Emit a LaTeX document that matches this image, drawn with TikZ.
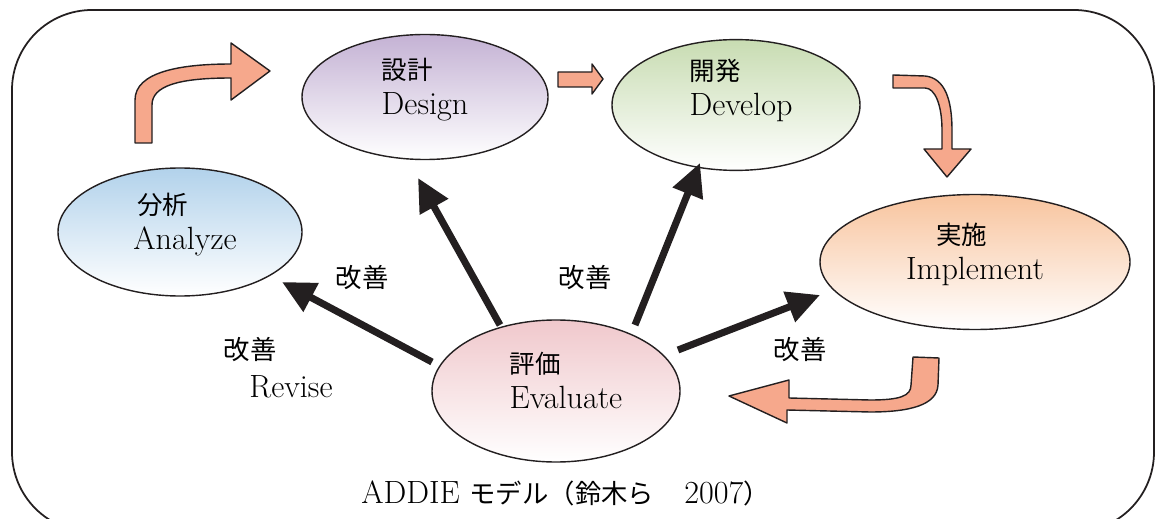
\documentclass[tikz,border=0pt]{standalone}
\usepackage{fontspec}
\newfontfamily\jp{Noto Sans CJK JP}
\usepackage{tikz}
\usetikzlibrary{shapes.geometric,arrows.meta,calc}

\definecolor{anacol}{RGB}{178,210,235}
\definecolor{descol}{RGB}{196,178,212}
\definecolor{devcol}{RGB}{200,220,178}
\definecolor{impcol}{RGB}{248,196,158}
\definecolor{evacol}{RGB}{240,200,204}
\definecolor{salmon}{RGB}{246,168,140}
\definecolor{ink}{RGB}{35,31,32}

\begin{document}
\begin{tikzpicture}[x=0.2mm, y=-0.2mm,
  phase/.style={ellipse, draw=ink, line width=0.8pt, outer sep=0pt, inner sep=0pt, align=left, text depth=4.4mm, bottom color=white, font={\fontsize{18.3}{20}\selectfont}},
  kaizen/.style={line width=4pt, draw=ink, -{Triangle[length=6.6mm, width=6.2mm]}},
  blk/.style={draw=ink, line width=0.8pt, fill=salmon, line join=round},
  lbl/.style={inner sep=0pt, font={\jp\fontsize{15}{18}\selectfont}}
]
\clip (0,0) rectangle (1156,519);
\draw[ink, line width=1pt, rounded corners=16mm] (12,10) rectangle (1154,532);

% phases
\node[phase, top color=anacol, minimum width=48.8mm, minimum height=25.6mm] (ana) at (180,232) {\hspace*{2mm}{\jp\fontsize{14.5}{20}\selectfont \hspace*{0.8mm}分析}\\\hspace*{2mm}Analyze};
\node[phase, top color=descol, minimum width=49.2mm, minimum height=25mm] (des) at (425,97) {{\jp\fontsize{14.5}{20}\selectfont 設計}\\Design};
\node[phase, top color=devcol, minimum width=49.6mm, minimum height=24mm, text depth=7.2mm] (dev) at (736,105) {\hspace*{2mm}{\jp\fontsize{14.5}{20}\selectfont 開発}\\\hspace*{2mm}Develop};
\node[phase, top color=impcol, minimum width=62mm, minimum height=27mm] (imp) at (975,262) {{\jp\fontsize{14.5}{20}\selectfont \hspace*{6mm}実施}\\Implement};
\node[phase, top color=evacol, minimum width=49.6mm, minimum height=28.4mm] (eva) at (556,391) {\hspace*{4mm}{\jp\fontsize{14.5}{20}\selectfont 評価}\\\hspace*{4mm}Evaluate};

% forward flow
\draw[blk] (135,143) -- (135,100) .. controls (135,72) and (180,64) .. (231,64) -- (231,43) -- (270,71) -- (231,100) -- (231,78) .. controls (178,78) and (152,86) .. (152,105) -- (152,143) -- cycle;
\draw[blk] (558,72) -- (592,72) -- (592,64) -- (603,79) -- (592,94) -- (592,87) -- (558,87) -- cycle;
\draw[blk] (893,75) -- (925,76) .. controls (945,78) and (952,100) .. (952,130) -- (952,149) -- (971,149) -- (947,177) -- (924,149) -- (942,149) -- (942,130) .. controls (942,105) and (935,88) .. (925,88) -- (893,88) -- cycle;
\draw[blk] (913,357) -- (939,358) -- (938,385) .. controls (937,405) and (910,412) .. (870,412) -- (787,410) -- (787,423) -- (729,396) -- (789,380) -- (789,398) -- (870,400) .. controls (900,400) and (911,396) .. (911,385) -- cycle;

% improvement
\draw[kaizen] ($(eva)+(-124,-29)$) -- ($(ana)+(102,50)$);
\draw[kaizen] ($(eva)+(-56,-66)$) -- ($(des)+(-7,81)$);
\draw[kaizen] ($(eva)+(79,-66)$) -- ($(dev)+(-36,58)$);
\draw[kaizen] ($(eva)+(122,-41)$) -- ($(imp)+(-155,33)$);

\node[lbl] (k1) at (362,278) {改善};
\node[lbl] (k2) at (585,278) {改善};
\node[lbl] (k3) at (800,350) {改善};
\node[lbl] (k4) at (250,350) {改善};
\node[inner sep=0pt, font={\fontsize{18.3}{20}\selectfont}] (rev) at (291,387) {Revise};

\node[inner sep=0pt, anchor=west, font={\fontsize{18.3}{20}\selectfont}] (cap) at (361,493) {ADDIE {\jp\fontsize{15}{18}\selectfont モデル（鈴木ら　}\hspace{0.8mm}2007{\jp\fontsize{15}{18}\selectfont ）}};
\end{tikzpicture}
\end{document}
